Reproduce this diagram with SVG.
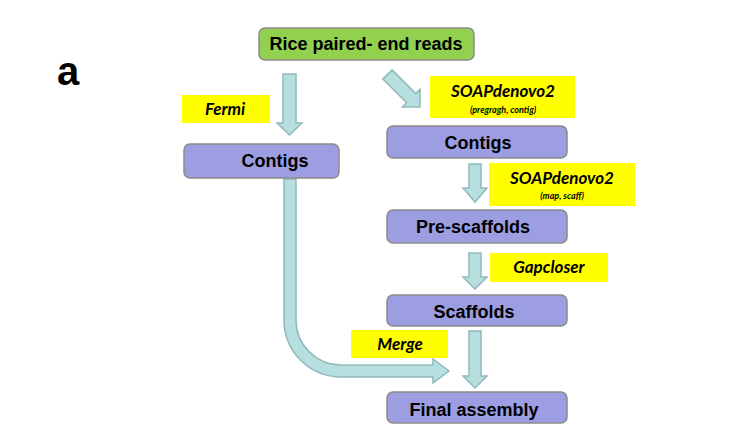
<svg xmlns="http://www.w3.org/2000/svg" width="745" height="441" viewBox="0 0 745 441">
<style>
.box{fill:#9d9de2;stroke:#8a8a8a;stroke-width:1.5}
.green{fill:#92d050;stroke:#8a8a8a;stroke-width:1.5}
.lbl{fill:#ffff00;stroke:none}
.arr{fill:#b8dfe0;stroke:#8fb9bb;stroke-width:1.5;stroke-linejoin:miter}
.t{font-family:"Liberation Sans",Arial,sans-serif;font-weight:bold;font-size:18px;fill:#000;text-anchor:middle}
.it{font-family:Lato,"Open Sans",sans-serif;font-weight:bold;font-style:italic;font-size:17px;fill:#000;text-anchor:middle}
.sm{font-family:Lato,"Open Sans",sans-serif;font-weight:bold;font-style:italic;font-size:9px;fill:#000;text-anchor:middle}
</style>
<rect width="745" height="441" fill="#ffffff"/>
<text x="57" y="85" font-family="Liberation Sans, Arial, sans-serif" font-weight="bold" font-size="40" fill="#000">a</text>
<g id="connectors">
  <path class="arr" d="M283,74 H296 V123 H302 L289.5,135 L277,123 H283 Z"/>
  <path class="arr" transform="translate(387.5,74.5) rotate(45)" d="M0,-6.5 H33.5 V-12.5 L46,0 L33.5,12.5 V6.5 H0 Z"/>
  <path class="arr" d="M469,164 H481 V188 H487 L475,202 L463,188 H469 Z"/>
  <path class="arr" d="M469,253 H481 V277 H487 L475,289 L463,277 H469 Z"/>
  <path class="arr" d="M469,331 H481 V376 H487 L475,388 L463,376 H469 Z"/>
  <path class="arr" d="M284,179 V320 A57,57 0 0 0 341,377 H433 V383 L449,371 L433,359 V365 H341 A45,45 0 0 1 296,320 V179 Z"/>
</g>
<g id="reads">
  <rect class="green" x="259" y="28" width="215" height="32" rx="6"/>
  <text class="t" x="366" y="50">Rice paired- end reads</text>
</g>
<g id="contigs-left">
  <rect class="box" x="184" y="144" width="155" height="34" rx="6"/>
  <text class="t" x="275" y="167">Contigs</text>
</g>
<g id="contigs-right">
  <rect class="box" x="387" y="126" width="180" height="32" rx="6"/>
  <text class="t" x="478" y="149">Contigs</text>
</g>
<g id="prescaffolds">
  <rect class="box" x="387" y="210" width="180" height="33" rx="6"/>
  <text class="t" x="473" y="233">Pre-scaffolds</text>
</g>
<g id="scaffolds">
  <rect class="box" x="387" y="295" width="180" height="31" rx="6"/>
  <text class="t" x="474" y="318">Scaffolds</text>
</g>
<g id="final">
  <rect class="box" x="387" y="392" width="180" height="31" rx="6"/>
  <text class="t" x="474" y="416">Final assembly</text>
</g>
<g id="fermi">
  <rect class="lbl" x="182" y="95" width="88" height="28"/>
  <text class="it" x="225" y="115">Fermi</text>
</g>
<g id="soap1">
  <rect class="lbl" x="430" y="76" width="145" height="42"/>
  <text class="it" x="503" y="97">SOAPdenovo2</text>
  <text class="sm" x="503" y="113">(pregragh, contig)</text>
</g>
<g id="soap2">
  <rect class="lbl" x="489" y="163" width="146" height="43"/>
  <text class="it" x="562" y="184">SOAPdenovo2</text>
  <text class="sm" x="562" y="199">(map, scaff)</text>
</g>
<g id="gapcloser">
  <rect class="lbl" x="490" y="253" width="118" height="29"/>
  <text class="it" x="549" y="273">Gapcloser</text>
</g>
<g id="merge">
  <rect class="lbl" x="351" y="330" width="97" height="28"/>
  <text class="it" x="400" y="350">Merge</text>
</g>
</svg>
